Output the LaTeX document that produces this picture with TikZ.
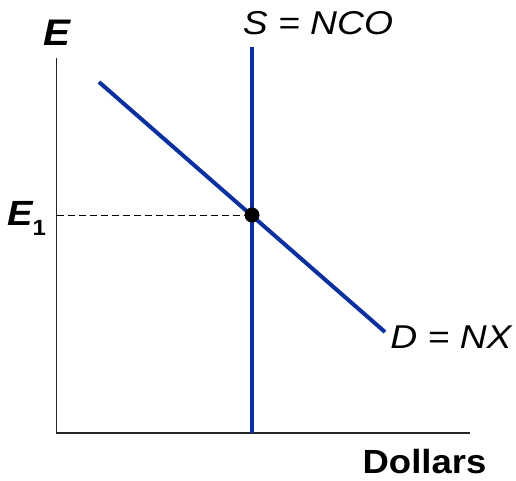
\documentclass[tikz,border=0pt]{standalone}
\usepackage{fontspec}
\setmainfont{Liberation Sans}
\newfontfamily\widefont[FakeStretch=1.13]{Liberation Sans}
\newfontfamily\midfont[FakeStretch=1.09]{Liberation Sans}
\definecolor{curveblue}{RGB}{10,48,160}
\begin{document}
\begin{tikzpicture}[x=1pt,y=-1pt,
  axis/.style={line width=1.4pt,black!85},
  curve/.style={line width=4pt,curveblue},
  guide/.style={line width=0.9pt,dash pattern=on 7pt off 4pt},
  lbl/.style={inner sep=0pt,anchor=base,font=\widefont\fontsize{33}{33}\selectfont\itshape},
  blbl/.style={inner sep=0pt,anchor=base,font=\midfont\fontsize{33.5}{33.5}\selectfont\bfseries}]
\useasboundingbox (0,0) rectangle (516,480);
\coordinate (O) at (56.5,433);
\coordinate (ytop) at (56.5,58);
\coordinate (xend) at (470,433);
\coordinate (stop) at (252,47);
\coordinate (sbot) at (252,433);
\coordinate (dtop) at (99,82);
\coordinate (dbot) at (385,332);
\coordinate (eq) at (252,215);
\coordinate (ey) at (56.5,215);
\draw[axis] (ytop) -- (O) -- (xend);
\draw[guide] (ey) -- (eq);
\draw[curve] (stop) -- (sbot);
\draw[curve] (dtop) -- (dbot);
\fill (eq) circle (7.5);
\node[inner sep=0pt,anchor=base,font=\midfont\fontsize{37}{37}\selectfont\bfseries\itshape] (E) at (57,45) {E};
\node[lbl] (S) at (318,34) {S = NCO};
\node[lbl] (D) at (451,348.3) {D = NX};
\node[inner sep=0pt,anchor=base west,font=\midfont\fontsize{35}{35}\selectfont\bfseries\itshape] (E1) at (7,225) {E\raisebox{-10pt}{\fontsize{22}{22}\selectfont\upshape 1}};
\node[blbl] (dol) at (424.5,473) {Dollars};
\end{tikzpicture}
\end{document}
